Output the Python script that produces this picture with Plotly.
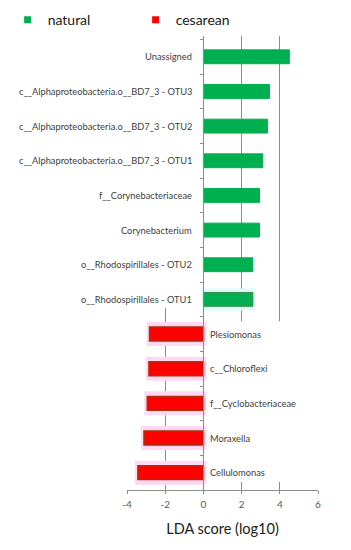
import plotly.graph_objects as go

# ---- data ----
natural_taxa = [
    "Unassigned",
    "c__Alphaproteobacteria.o__BD7_3 - OTU3",
    "c__Alphaproteobacteria.o__BD7_3 - OTU2",
    "c__Alphaproteobacteria.o__BD7_3 - OTU1",
    "f__Corynebacteriaceae",
    "Corynebacterium",
    "o__Rhodospirillales - OTU2",
    "o__Rhodospirillales - OTU1",
]
natural_lda = [4.50, 3.46, 3.36, 3.11, 2.94, 2.94, 2.59, 2.59]

cesarean_taxa = [
    "Plesiomonas",
    "c__Chloroflexi",
    "f__Cyclobacteriaceae",
    "Moraxella",
    "Cellulomonas",
]
cesarean_lda = [-2.82, -2.85, -2.94, -3.11, -3.43]

x_ticks = [-4, -2, 0, 2, 4, 6]

categories = natural_taxa + cesarean_taxa

GREEN = "#00B050"
RED = "#FF0000"
GRID = "#8C8C8C"
TXT = "#404040"
FONT = "Lato, Open Sans, sans-serif"

fig = go.Figure()

# halo traces (faint highlight around bars)
halo_green = ["rgba(0,0,0,0)"] * (len(natural_taxa) - 1) + ["#DDFBFB"]
fig.add_trace(go.Bar(
    x=natural_lda, y=natural_taxa, orientation="h", width=0.52,
    marker=dict(color=halo_green, line=dict(color=halo_green, width=4)),
    showlegend=False, hoverinfo="skip"))
fig.add_trace(go.Bar(
    x=cesarean_lda, y=cesarean_taxa, orientation="h", width=0.52,
    marker=dict(color="#FFD9F4", line=dict(color="#FFD9F4", width=6)),
    showlegend=False, hoverinfo="skip"))

# main bars
green_lines = [GREEN] * (len(natural_taxa) - 1) + ["#3C8A4E"]
fig.add_trace(go.Bar(
    x=natural_lda, y=natural_taxa, orientation="h", width=0.4,
    marker=dict(color=GREEN, line=dict(color=green_lines, width=1)),
    name="natural", showlegend=False))
fig.add_trace(go.Bar(
    x=cesarean_lda, y=cesarean_taxa, orientation="h", width=0.4,
    marker=dict(color=RED, line=dict(color="#A8300A", width=1.5)),
    name="cesarean", showlegend=False))

# legend entries
for nm, col in [("natural", GREEN), ("cesarean", RED)]:
    fig.add_trace(go.Scatter(
        x=[None], y=[None], mode="markers", name=nm,
        marker=dict(symbol="square", size=7, color=col)))

# labels
for t in natural_taxa:
    fig.add_annotation(x=0, y=t, text=t, showarrow=False, xanchor="right",
                       xshift=-9, font=dict(size=9.3, color=TXT, family=FONT))
for t in cesarean_taxa:
    fig.add_annotation(x=0, y=t, text=t, showarrow=False, xanchor="left",
                       xshift=5, font=dict(size=9.3, color=TXT, family=FONT))

# white covers hiding gridlines behind label areas
fig.add_shape(type="rect", x0=-4.3, x1=-0.05, y0=-0.6, y1=7.25,
              fillcolor="white", line=dict(width=0), layer="between")
fig.add_shape(type="rect", x0=0.05, x1=6.3, y0=7.63, y1=12.27,
              fillcolor="white", line=dict(width=0), layer="between")

fig.update_layout(
    width=343, height=542,
    margin=dict(l=119, r=33, t=28, b=60, autoexpand=False),
    paper_bgcolor="white", plot_bgcolor="white",
    barmode="overlay",
    font=dict(family=FONT, color=TXT),
    legend=dict(orientation="h", x=-0.625, xanchor="left", y=1.035, yanchor="middle",
                entrywidth=83, entrywidthmode="pixels",
                font=dict(size=14, color="#202020", family=FONT),
                bgcolor="rgba(0,0,0,0)"),
    xaxis=dict(range=[-4, 6], tickvals=x_ticks, ticktext=[str(v) for v in x_ticks],
               showgrid=True, gridcolor=GRID, gridwidth=1, zeroline=False,
               showline=True, linecolor=GRID, ticks="outside", ticklen=3,
               tickcolor=GRID, tickfont=dict(size=10, color="#595959", family=FONT),
               ticklabelstandoff=2, automargin=False,
               title=dict(text="LDA score (log10)", font=dict(size=14.5, color="#202020", family=FONT),
                          standoff=14)),
    yaxis=dict(categoryorder="array", categoryarray=categories, autorange="reversed",
               showticklabels=False, showgrid=False, zeroline=False,
               showline=True, linecolor=GRID, ticks="outside", ticklen=3,
               tickcolor=GRID, tickson="boundaries", automargin=False,
               anchor="free", position=0.4),
)

fig.write_html("out.html")
